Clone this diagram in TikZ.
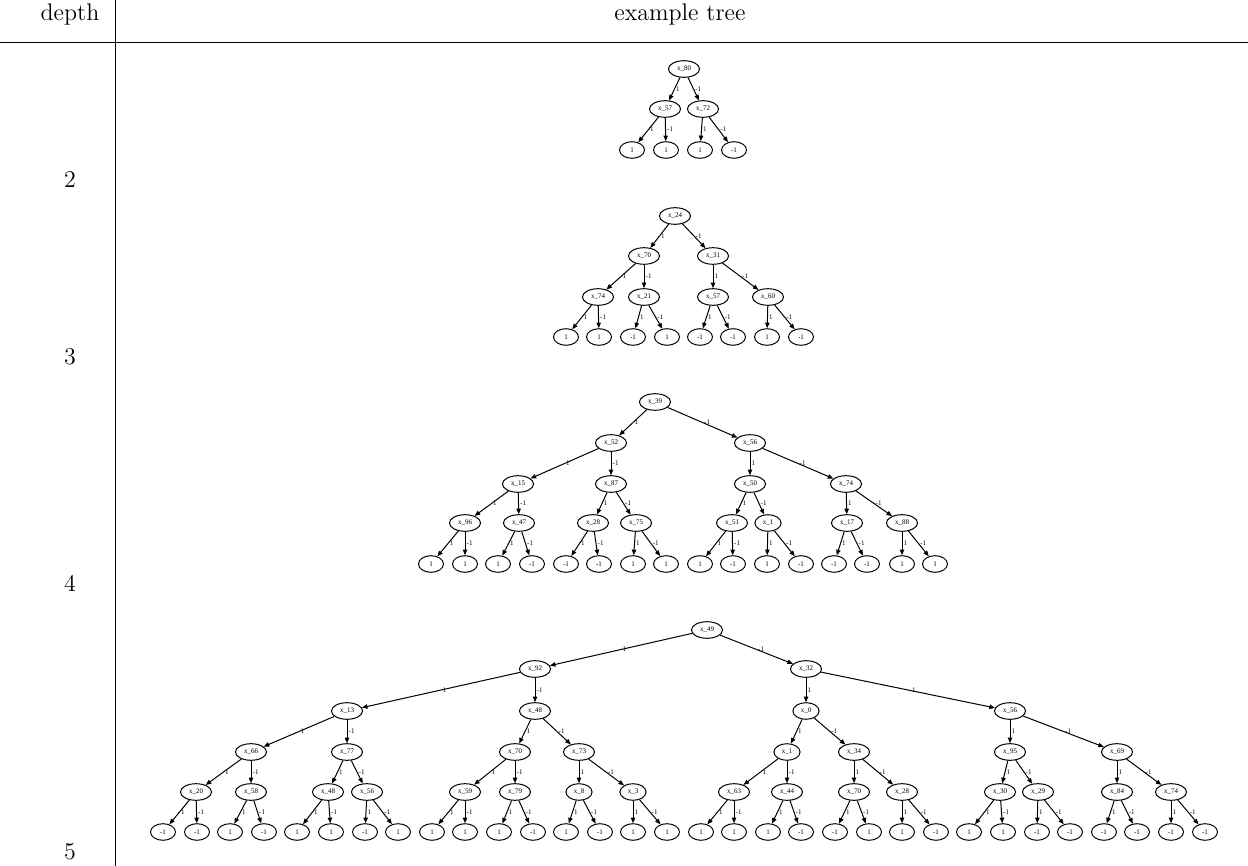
\documentclass[tikz,border=0pt]{standalone}
\usepackage{fontspec}
\newfontfamily\gvfont{Liberation Serif}
\usetikzlibrary{arrows.meta,shapes.geometric}

\begin{document}
\begin{tikzpicture}[x=0.5pt,y=-0.5pt,
  tnode/.style={draw,ellipse,line width=0.5pt,minimum width=12.5pt,minimum height=8.3pt,
    inner xsep=2pt,inner ysep=0.5pt,font=\gvfont\fontsize{3.5}{4}\selectfont},
  lbl/.style={midway,right,inner sep=0.6pt,font=\gvfont\fontsize{3.5}{4}\selectfont},
  edg/.style={-{Triangle[length=2.8pt,width=2.2pt]},line width=0.5pt},
  big/.style={font=\fontsize{12}{14}\selectfont}]
\useasboundingbox (0,0) rectangle (1248,866);
%\draw[step=50,gray,very thin] (0,0) grid (1248,866); %background grid

% table
\node[big] (hdepth) at (70,15) {depth};
\node[big] (htree) at (680,15) {example tree};
\draw[line width=0.4pt] (0,42) -- (1248,42);
\draw[line width=0.4pt] (115,0) -- (115,866);

\node[big] (n2) at (70,180) {2};
\node[big] (n3) at (70,357) {3};
\node[big] (n4) at (70,583) {4};
\node[big] (n5) at (70,852) {5};

% depth 2
\node[tnode] (a1) at (684,69) {x\_80};
\node[tnode] (a2) at (665,109) {x\_57};
\node[tnode] (a3) at (703,109) {x\_72};
\node[tnode] (a4) at (632,150) {1};
\node[tnode] (a5) at (666,150) {1};
\node[tnode] (a6) at (700,150) {1};
\node[tnode] (a7) at (734,150) {-1};

\draw[edg] (a1) edge node[lbl] {1} (a2) edge node[lbl] {-1} (a3);
\draw[edg] (a2) edge node[lbl] {1} (a4) edge node[lbl] {-1} (a5);
\draw[edg] (a3) edge node[lbl] {1} (a6) edge node[lbl] {-1} (a7);

% depth 3
\node[tnode] (b1) at (675,216) {x\_24};
\node[tnode] (b2) at (644,256) {x\_70};
\node[tnode] (b3) at (713,256) {x\_31};
\node[tnode] (b4) at (598,297) {x\_74};
\node[tnode] (b5) at (644,297) {x\_21};
\node[tnode] (b6) at (713,297) {x\_57};
\node[tnode] (b7) at (768,297) {x\_60};
\node[tnode] (b8) at (566,337) {1};
\node[tnode] (b9) at (599,337) {1};
\node[tnode] (b10) at (633,337) {-1};
\node[tnode] (b11) at (667,337) {1};
\node[tnode] (b12) at (700,337) {-1};
\node[tnode] (b13) at (733,337) {-1};
\node[tnode] (b14) at (767,337) {1};
\node[tnode] (b15) at (801,337) {-1};

\draw[edg] (b1) edge node[lbl] {1} (b2) edge node[lbl] {-1} (b3);
\draw[edg] (b2) edge node[lbl] {1} (b4) edge node[lbl] {-1} (b5);
\draw[edg] (b3) edge node[lbl] {1} (b6) edge node[lbl] {-1} (b7);
\draw[edg] (b4) edge node[lbl] {1} (b8) edge node[lbl] {-1} (b9);
\draw[edg] (b5) edge node[lbl] {1} (b10) edge node[lbl] {-1} (b11);
\draw[edg] (b6) edge node[lbl] {1} (b12) edge node[lbl] {-1} (b13);
\draw[edg] (b7) edge node[lbl] {1} (b14) edge node[lbl] {-1} (b15);

% depth 4
\node[tnode] (c1) at (655,402) {x\_39};
\node[tnode] (c2) at (611,443) {x\_52};
\node[tnode] (c3) at (750,443) {x\_56};
\node[tnode] (c4) at (518,484) {x\_15};
\node[tnode] (c5) at (611,484) {x\_87};
\node[tnode] (c6) at (750,484) {x\_50};
\node[tnode] (c7) at (846,484) {x\_74};
\node[tnode] (c8) at (465,523) {x\_96};
\node[tnode] (c9) at (519,523) {x\_47};
\node[tnode] (c10) at (593,523) {x\_28};
\node[tnode] (c11) at (636,523) {x\_75};
\node[tnode] (c12) at (732,523) {x\_51};
\node[tnode] (c13) at (768,523) {x\_1};
\node[tnode] (c14) at (847,523) {x\_17};
\node[tnode] (c15) at (902,523) {x\_88};
\node[tnode] (c16) at (431,564) {1};
\node[tnode] (c17) at (465,564) {1};
\node[tnode] (c18) at (498,564) {1};
\node[tnode] (c19) at (532,564) {-1};
\node[tnode] (c20) at (566,564) {-1};
\node[tnode] (c21) at (599,564) {-1};
\node[tnode] (c22) at (633,564) {1};
\node[tnode] (c23) at (666,564) {1};
\node[tnode] (c24) at (700,564) {1};
\node[tnode] (c25) at (733,564) {-1};
\node[tnode] (c26) at (767,564) {1};
\node[tnode] (c27) at (801,564) {-1};
\node[tnode] (c28) at (834,564) {-1};
\node[tnode] (c29) at (867,564) {-1};
\node[tnode] (c30) at (902,564) {1};
\node[tnode] (c31) at (935,564) {1};

\draw[edg] (c1) edge node[lbl] {1} (c2) edge node[lbl] {-1} (c3);
\draw[edg] (c2) edge node[lbl] {1} (c4) edge node[lbl] {-1} (c5);
\draw[edg] (c3) edge node[lbl] {1} (c6) edge node[lbl] {-1} (c7);
\draw[edg] (c4) edge node[lbl] {1} (c8) edge node[lbl] {-1} (c9);
\draw[edg] (c5) edge node[lbl] {1} (c10) edge node[lbl] {-1} (c11);
\draw[edg] (c6) edge node[lbl] {1} (c12) edge node[lbl] {-1} (c13);
\draw[edg] (c7) edge node[lbl] {1} (c14) edge node[lbl] {-1} (c15);
\draw[edg] (c8) edge node[lbl] {1} (c16) edge node[lbl] {-1} (c17);
\draw[edg] (c9) edge node[lbl] {1} (c18) edge node[lbl] {-1} (c19);
\draw[edg] (c10) edge node[lbl] {1} (c20) edge node[lbl] {-1} (c21);
\draw[edg] (c11) edge node[lbl] {1} (c22) edge node[lbl] {-1} (c23);
\draw[edg] (c12) edge node[lbl] {1} (c24) edge node[lbl] {-1} (c25);
\draw[edg] (c13) edge node[lbl] {1} (c26) edge node[lbl] {-1} (c27);
\draw[edg] (c14) edge node[lbl] {1} (c28) edge node[lbl] {-1} (c29);
\draw[edg] (c15) edge node[lbl] {1} (c30) edge node[lbl] {-1} (c31);

% depth 5
\node[tnode] (d1) at (707,630) {x\_49};
\node[tnode] (d2) at (535,669) {x\_92};
\node[tnode] (d3) at (806,669) {x\_32};
\node[tnode] (d4) at (347,711) {x\_13};
\node[tnode] (d5) at (535,711) {x\_48};
\node[tnode] (d6) at (806,711) {x\_0};
\node[tnode] (d7) at (1010,711) {x\_56};
\node[tnode] (d8) at (251,752) {x\_66};
\node[tnode] (d9) at (347,752) {x\_77};
\node[tnode] (d10) at (515,752) {x\_70};
\node[tnode] (d11) at (579,752) {x\_73};
\node[tnode] (d12) at (787,752) {x\_1};
\node[tnode] (d13) at (854,752) {x\_34};
\node[tnode] (d14) at (1010,752) {x\_95};
\node[tnode] (d15) at (1117,752) {x\_69};
\node[tnode] (d16) at (196,792) {x\_20};
\node[tnode] (d17) at (251,792) {x\_58};
\node[tnode] (d18) at (328,792) {x\_48};
\node[tnode] (d19) at (367,792) {x\_56};
\node[tnode] (d20) at (465,792) {x\_59};
\node[tnode] (d21) at (515,792) {x\_79};
\node[tnode] (d22) at (579,792) {x\_8};
\node[tnode] (d23) at (633,792) {x\_3};
\node[tnode] (d24) at (734,792) {x\_63};
\node[tnode] (d25) at (787,792) {x\_44};
\node[tnode] (d26) at (854,792) {x\_70};
\node[tnode] (d27) at (902,792) {x\_28};
\node[tnode] (d28) at (1000,792) {x\_30};
\node[tnode] (d29) at (1038,792) {x\_29};
\node[tnode] (d30) at (1117,792) {x\_84};
\node[tnode] (d31) at (1171,792) {x\_74};
\node[tnode] (d32) at (163,832) {-1};
\node[tnode] (d33) at (197,832) {-1};
\node[tnode] (d34) at (230,832) {1};
\node[tnode] (d35) at (264,832) {-1};
\node[tnode] (d36) at (297,832) {1};
\node[tnode] (d37) at (331,832) {1};
\node[tnode] (d38) at (365,832) {-1};
\node[tnode] (d39) at (398,832) {1};
\node[tnode] (d40) at (432,832) {1};
\node[tnode] (d41) at (465,832) {1};
\node[tnode] (d42) at (499,832) {1};
\node[tnode] (d43) at (533,832) {-1};
\node[tnode] (d44) at (566,832) {1};
\node[tnode] (d45) at (600,832) {-1};
\node[tnode] (d46) at (633,832) {1};
\node[tnode] (d47) at (667,832) {1};
\node[tnode] (d48) at (701,832) {1};
\node[tnode] (d49) at (734,832) {1};
\node[tnode] (d50) at (768,832) {1};
\node[tnode] (d51) at (801,832) {-1};
\node[tnode] (d52) at (835,832) {-1};
\node[tnode] (d53) at (869,832) {1};
\node[tnode] (d54) at (902,832) {1};
\node[tnode] (d55) at (936,832) {-1};
\node[tnode] (d56) at (969,832) {1};
\node[tnode] (d57) at (1003,832) {1};
\node[tnode] (d58) at (1037,832) {-1};
\node[tnode] (d59) at (1070,832) {-1};
\node[tnode] (d60) at (1104,832) {-1};
\node[tnode] (d61) at (1137,832) {-1};
\node[tnode] (d62) at (1171,832) {-1};
\node[tnode] (d63) at (1205,832) {-1};

\draw[edg] (d1) edge node[lbl] {1} (d2) edge node[lbl] {-1} (d3);
\draw[edg] (d2) edge node[lbl] {1} (d4) edge node[lbl] {-1} (d5);
\draw[edg] (d3) edge node[lbl] {1} (d6) edge node[lbl] {-1} (d7);
\draw[edg] (d4) edge node[lbl] {1} (d8) edge node[lbl] {-1} (d9);
\draw[edg] (d5) edge node[lbl] {1} (d10) edge node[lbl] {-1} (d11);
\draw[edg] (d6) edge node[lbl] {1} (d12) edge node[lbl] {-1} (d13);
\draw[edg] (d7) edge node[lbl] {1} (d14) edge node[lbl] {-1} (d15);
\draw[edg] (d8) edge node[lbl] {1} (d16) edge node[lbl] {-1} (d17);
\draw[edg] (d9) edge node[lbl] {1} (d18) edge node[lbl] {-1} (d19);
\draw[edg] (d10) edge node[lbl] {1} (d20) edge node[lbl] {-1} (d21);
\draw[edg] (d11) edge node[lbl] {1} (d22) edge node[lbl] {-1} (d23);
\draw[edg] (d12) edge node[lbl] {1} (d24) edge node[lbl] {-1} (d25);
\draw[edg] (d13) edge node[lbl] {1} (d26) edge node[lbl] {-1} (d27);
\draw[edg] (d14) edge node[lbl] {1} (d28) edge node[lbl] {-1} (d29);
\draw[edg] (d15) edge node[lbl] {1} (d30) edge node[lbl] {-1} (d31);
\draw[edg] (d16) edge node[lbl] {1} (d32) edge node[lbl] {-1} (d33);
\draw[edg] (d17) edge node[lbl] {1} (d34) edge node[lbl] {-1} (d35);
\draw[edg] (d18) edge node[lbl] {1} (d36) edge node[lbl] {-1} (d37);
\draw[edg] (d19) edge node[lbl] {1} (d38) edge node[lbl] {-1} (d39);
\draw[edg] (d20) edge node[lbl] {1} (d40) edge node[lbl] {-1} (d41);
\draw[edg] (d21) edge node[lbl] {1} (d42) edge node[lbl] {-1} (d43);
\draw[edg] (d22) edge node[lbl] {1} (d44) edge node[lbl] {-1} (d45);
\draw[edg] (d23) edge node[lbl] {1} (d46) edge node[lbl] {-1} (d47);
\draw[edg] (d24) edge node[lbl] {1} (d48) edge node[lbl] {-1} (d49);
\draw[edg] (d25) edge node[lbl] {1} (d50) edge node[lbl] {-1} (d51);
\draw[edg] (d26) edge node[lbl] {1} (d52) edge node[lbl] {-1} (d53);
\draw[edg] (d27) edge node[lbl] {1} (d54) edge node[lbl] {-1} (d55);
\draw[edg] (d28) edge node[lbl] {1} (d56) edge node[lbl] {-1} (d57);
\draw[edg] (d29) edge node[lbl] {1} (d58) edge node[lbl] {-1} (d59);
\draw[edg] (d30) edge node[lbl] {1} (d60) edge node[lbl] {-1} (d61);
\draw[edg] (d31) edge node[lbl] {1} (d62) edge node[lbl] {-1} (d63);

\end{tikzpicture}
\end{document}
